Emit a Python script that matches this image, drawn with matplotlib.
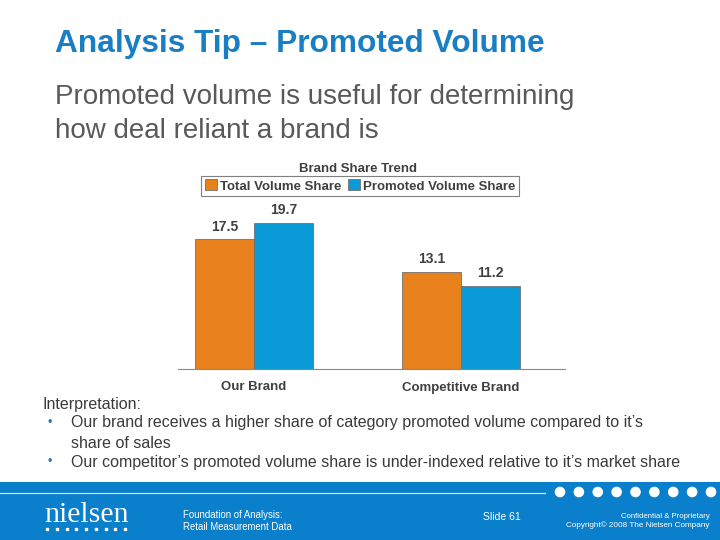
import matplotlib
matplotlib.use("Agg")
import matplotlib.pyplot as plt
from matplotlib.patches import Rectangle, Circle
import numpy as np

plt.rcParams["font.family"] = ["Liberation Sans", "DejaVu Sans"]

# data
brands = ["Our Brand", "Competitive Brand"]
total_share = [17.5, 13.1]
promoted_share = [19.7, 11.2]
series_names = ["Total Volume Share", "Promoted Volume Share"]

ORANGE = "#E8811C"
BLUE = "#0A9AD7"
TITLE_BLUE = "#1A7EC4"
FOOTER_BLUE = "#0A7FCB"
GREY_TXT = "#595959"

fig = plt.figure(figsize=(7.2, 5.4), dpi=100)

# slide header
fig.text(55 / 720, 1 - 44 / 540, "Analysis Tip \u2013 Promoted Volume", color=TITLE_BLUE,
         fontsize=22.8, fontweight="bold", va="center", ha="left")
fig.text(55 / 720, 1 - 97 / 540, "Promoted volume is useful for determining", color=GREY_TXT,
         fontsize=20, va="center", ha="left")
fig.text(55 / 720, 1 - 131 / 540, "how deal reliant a brand is", color=GREY_TXT,
         fontsize=20, va="center", ha="left")

# chart
ax = fig.add_axes([178 / 720, 1 - 369 / 540, 387 / 720, 178 / 540])
x = np.arange(len(brands))
w = 0.285
b1 = ax.bar(x - w / 2, total_share, w, color=ORANGE, edgecolor="#707070", lw=0.6,
            label=series_names[0])
b2 = ax.bar(x + w / 2, promoted_share, w, color=BLUE, edgecolor="#707070", lw=0.6,
            label=series_names[1])
for bars in (b1, b2):
    for r in bars:
        ax.annotate(f"{r.get_height():.1f}", (r.get_x() + r.get_width() / 2, r.get_height()),
                    xytext=(0, 4), textcoords="offset points", ha="center", va="bottom",
                    fontsize=10, fontweight="bold", color="#404040")
ax.set_xlim(-0.367, 1.502)
ax.set_ylim(0, 24)
ax.set_xticks(x)
ax.set_xticklabels(brands, fontsize=9.5, fontweight="bold", color="#404040")
ax.tick_params(axis="x", length=0, pad=9)
ax.set_yticks([])
for s in ("top", "left", "right"):
    ax.spines[s].set_visible(False)
ax.spines["bottom"].set_color("#888888")
ax.patch.set_alpha(0)

fig.text(358 / 720, 1 - 169 / 540, "Brand Share Trend", fontsize=9.5, fontweight="bold",
         color="#404040", ha="center", va="center")
leg = fig.legend(handles=[b1, b2], loc="center", bbox_to_anchor=(360 / 720, 1 - 186 / 540),
                 ncol=2, fontsize=9.5, frameon=True, fancybox=False, edgecolor="#606060",
                 handlelength=0.9, handleheight=0.9, handletextpad=0.25, columnspacing=0.5,
                 borderpad=0.25, borderaxespad=0)
leg.get_frame().set_linewidth(0.8)
for t in leg.get_texts():
    t.set_fontweight("bold")
    t.set_color("#404040")

# interpretation text
txt_c = "#3a3a3a"
fig.text(43 / 720, 1 - 404 / 540, "Interpretation:", fontsize=11.5, color=txt_c, va="center")
bullets = [
    (423, "Our brand receives a higher share of category promoted volume compared to it\u2019s"),
    (443, "share of sales"),
    (462, "Our competitor\u2019s promoted volume share is under-indexed relative to it\u2019s market share"),
]
for yy, s in bullets:
    fig.text(71 / 720, 1 - yy / 540, s, fontsize=11.5, color=txt_c, va="center")
for yy in (423, 462):
    fig.text(47 / 720, 1 - yy / 540, "\u2022", fontsize=9, color="#2E75B6", va="center")

# footer band
fax = fig.add_axes([0, 0, 1, 58 / 540])
fax.set_xlim(0, 720)
fax.set_ylim(540, 482)
fax.axis("off")
fax.add_patch(Rectangle((0, 482), 720, 58, color=FOOTER_BLUE, zorder=0))
fax.plot([0, 545], [493, 493], color="white", lw=0.8)
for cx in np.linspace(560, 711, 9):
    fax.add_patch(Circle((cx, 492), 4.6, color="white", zorder=2))
fax.text(44, 515, "nielsen", family=["Liberation Serif"], fontsize=21.5, color="white",
         va="center", ha="left")
for cx in np.linspace(47, 125, 9):
    fax.add_patch(Rectangle((cx - 1, 528), 2, 2, color="white"))
fax.text(183, 515, "Foundation of Analysis:", fontsize=6.9, color="white", va="center")
fax.text(183, 527, "Retail Measurement Data", fontsize=6.9, color="white", va="center")
fax.text(483, 517, "Slide 61", fontsize=7.5, color="white", va="center")
fax.text(710, 516, "Confidential & Proprietary", fontsize=5.6, color="white", va="center",
         ha="right")
fax.text(710, 525, "Copyright\u00a9 2008 The Nielsen Company", fontsize=5.9, color="white",
         va="center", ha="right")

fig.savefig("out.png", dpi=100)
